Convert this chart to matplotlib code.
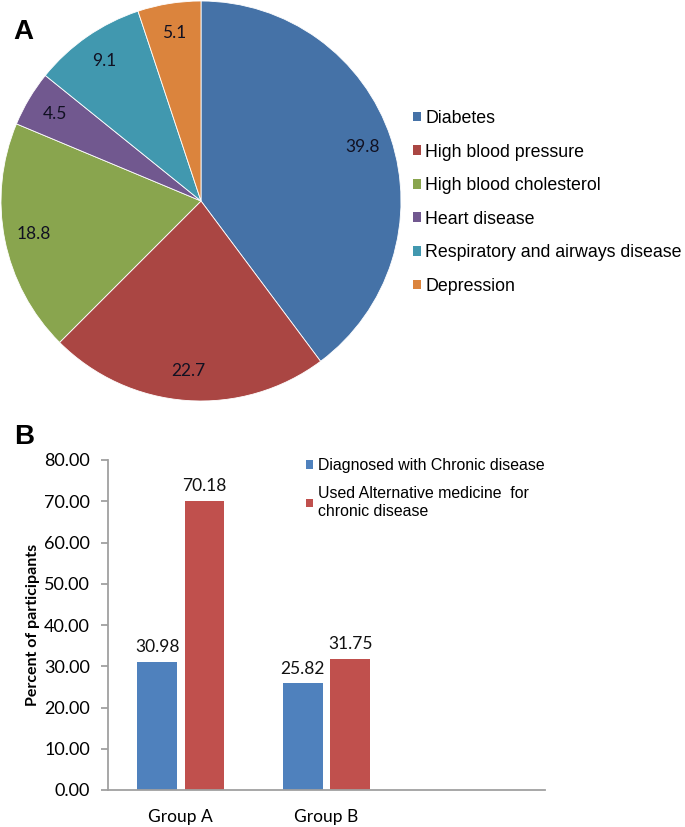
import numpy as np
import matplotlib
matplotlib.use('Agg')
import matplotlib.pyplot as plt
from matplotlib.patches import Patch

# ---- data ----
pie_labels = ['Diabetes', 'High blood pressure', 'High blood cholesterol',
              'Heart disease', 'Respiratory and airways disease', 'Depression']
pie_values = [39.8, 22.7, 18.8, 4.5, 9.1, 5.1]
pie_colors = ['#4572A7', '#AA4643', '#89A54E', '#71588F', '#4198AF', '#DB843D']

groups = ['Group A', 'Group B', '']
diagnosed = [30.98, 25.82]
used_alt = [70.18, 31.75]
series_names = ['Diagnosed with Chronic disease',
                'Used Alternative medicine  for\nchronic disease']
series_colors = ['#4F81BD', '#C0504D']
yticks = [0, 10, 20, 30, 40, 50, 60, 70, 80]

W, H = 685, 827
fig = plt.figure(figsize=(W / 100, H / 100), dpi=100)

# ---- Panel A: pie ----
axp = fig.add_axes([1 / W, (H - 401) / H, 400 / W, 400 / H])
wedges, texts, autotexts = axp.pie(
    pie_values, colors=pie_colors, startangle=90, counterclock=False,
    autopct='%.1f', pctdistance=0.85, radius=1,
    wedgeprops=dict(edgecolor='white', linewidth=0.6),
    textprops=dict(fontsize=12.5, color='#111122', family='Lato'))
axp.set_xlim(-1, 1)
axp.set_ylim(-1, 1)
axp.set_aspect('equal')
axp.axis('off')

pie_handles = [Patch(facecolor=c, edgecolor='none') for c in pie_colors]
fig.legend(pie_handles, pie_labels, loc='upper left',
           bbox_to_anchor=(413 / W, 1 - 110 / H), frameon=False,
           prop=dict(family='Liberation Sans', size=12.8),
           handlelength=0.45, handleheight=0.45, handletextpad=0.25,
           labelspacing=0.93, borderpad=0, borderaxespad=0)

fig.text(23 / W, 1 - 32 / H, 'A', fontsize=20, fontweight='bold',
         ha='center', va='center', family='Liberation Sans')

# ---- Panel B: bars ----
ax = fig.add_axes([108 / W, 37 / H, 437 / W, 330 / H])
x = np.arange(len(groups))
n = len(diagnosed)
bw = 0.272
off = 0.163
b1 = ax.bar(x[:n] - off, diagnosed, bw, color=series_colors[0])
b2 = ax.bar(x[:n] + off, used_alt, bw, color=series_colors[1])
for bars in (b1, b2):
    ax.bar_label(bars, fmt='%.2f', padding=5, fontsize=12.5, family='Lato',
                 color='#111111')
ax.set_xlim(-0.5, len(groups) - 0.5)
ax.set_ylim(0, 80)
ax.set_yticks(yticks)
ax.set_yticklabels([f'{v:.2f}' for v in yticks], family='Lato', fontsize=13)
ax.set_xticks(x)
ax.set_xticklabels(groups, family='Lato', fontsize=12.5)
for s in ('top', 'right'):
    ax.spines[s].set_visible(False)
for s in ('left', 'bottom'):
    ax.spines[s].set_color('#A0A0A0')
    ax.spines[s].set_linewidth(1.3)
ax.tick_params(axis='y', direction='out', length=5, width=1.3,
               color='#A0A0A0', pad=8)
ax.tick_params(axis='x', length=0, pad=14)
ax.set_ylabel('Percent of participants', fontsize=11.5, fontweight='bold',
              family='Lato')
ax.yaxis.set_label_coords(-0.155, 0.5)

fig.legend([Patch(facecolor=c, edgecolor='none') for c in series_colors],
           series_names, loc='upper left',
           bbox_to_anchor=(306 / W, 1 - 458 / H), frameon=False,
           prop=dict(family='Liberation Sans', size=11.4),
           handlelength=0.45, handleheight=0.45, handletextpad=0.3,
           labelspacing=0.85, borderpad=0, borderaxespad=0)

fig.text(24 / W, 1 - 437 / H, 'B', fontsize=20, fontweight='bold',
         ha='center', va='center', family='Liberation Sans')

fig.savefig('out.png', dpi=100)
